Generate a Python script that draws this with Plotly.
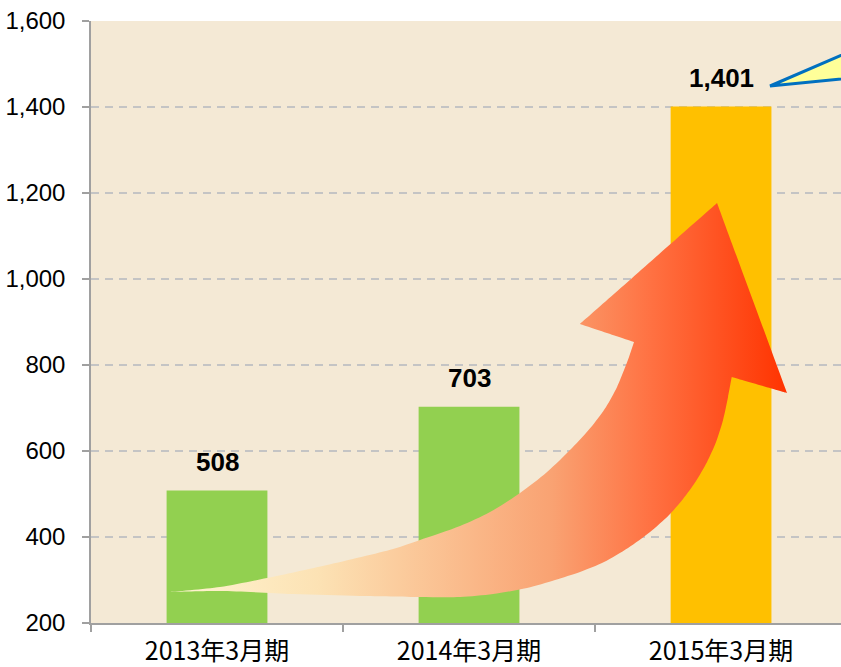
import plotly.graph_objects as go

# ---- data ----
categories = ["2013年3月期", "2014年3月期", "2015年3月期"]
values = [508, 703, 1401]
bar_colors = ["#92D050", "#92D050", "#FFC000"]
y_ticks = [200, 400, 600, 800, 1000, 1200, 1400, 1600]

# ---- decorative growth arrow outline (pixel frame) ----
# sharp corners are repeated so the smoothed outline keeps them pointed
arrow_px = [(170, 592), (170, 592), (220, 587), (267, 578), (327, 565), (393, 549), (420, 540),
            (460, 526), (490, 512), (520, 493), (547, 472), (572, 448), (592, 426), (606, 407),
            (617, 387), (624, 370), (629, 357), (634, 342), (634, 342), (580, 324), (580, 324),
            (580, 324), (717, 203), (717, 203), (717, 203), (787, 393), (787, 393), (787, 393),
            (731.7, 377), (731.7, 377), (728, 397), (723, 420), (716, 442), (707, 462), (696, 481),
            (683, 499), (669, 515), (650, 532), (628, 548), (604, 562), (580, 572), (555, 580),
            (527, 588), (493, 594), (460, 597), (420, 597), (360, 596), (293, 594), (220, 591),
            (170, 592), (170, 592)]
callout_px = [(770, 86), (870, 43), (870, 76)]

# reference frame: plot left 91px, category step 252px, y=200 at 623px, 200 units per 86px
def px_to_axis(p):
    return ((p[0] - 91) / 252 - 0.5, 200 + (623 - p[1]) * 200 / 86)

arrow_pts = [px_to_axis(p) for p in arrow_px]
callout_pts = [px_to_axis(p) for p in callout_px]

xs = list(range(len(categories)))

fig = go.Figure()
fig.add_trace(go.Bar(
    x=xs, y=values, width=0.4, marker=dict(color=bar_colors, line=dict(width=0)),
    hoverinfo="skip", showlegend=False,
))
fig.add_trace(go.Scatter(
    x=[p[0] for p in arrow_pts], y=[p[1] for p in arrow_pts],
    mode="lines", fill="toself", line=dict(width=0, shape="spline", smoothing=0.8),
    fillgradient=dict(type="horizontal",
                      colorscale=[[0, "#FFF5D2"], [0.24, "#FCE2B4"], [0.62, "#F9A272"],
                                  [0.78, "#FF7142"], [1, "#FF3300"]]),
    hoverinfo="skip", showlegend=False,
))

for x, v in zip(xs, values):
    fig.add_annotation(x=x, y=v, text=f"{v:,}", showarrow=False, yanchor="bottom",
                       yshift=12,
                       font=dict(family="Liberation Sans", size=26, color="#000000", weight="bold"),
                       xref="x", yref="y")

path = "M {} {} L {} {} L {} {} Z".format(*callout_pts[0], *callout_pts[1], *callout_pts[2])
fig.add_shape(type="path", path=path, xref="x", yref="y",
              fillcolor="#FFFF99", line=dict(color="#0070C0", width=3), layer="above")

fig.update_layout(
    width=841, height=667,
    margin=dict(l=91, r=0, t=21, b=44, autoexpand=False),
    paper_bgcolor="#FFFFFF", plot_bgcolor="#F4E9D5",
)
fig.update_xaxes(
    range=[-0.5, 2.476], tickmode="array", tickvals=xs, ticktext=categories,
    ticks="", showgrid=False, zeroline=False,
    showline=True, linecolor="#A0A0A0", linewidth=1.5,
    tickfont=dict(family="Noto Sans CJK JP", size=25, color="#000000"),
    ticklabelstandoff=5,
    minor=dict(tickmode="array", tickvals=[-0.5, 0.5, 1.5, 2.5], ticks="outside",
               ticklen=7, tickcolor="#A0A0A0", tickwidth=1.5, showgrid=False),
)
fig.update_yaxes(
    range=[200, 1600], tickmode="array", tickvals=y_ticks, tickformat=",",
    ticks="outside", ticklen=7, tickcolor="#A0A0A0", tickwidth=1.5,
    showline=True, linecolor="#A0A0A0", linewidth=1.5,
    showgrid=True, gridcolor="#C4C4C4", gridwidth=1.5, griddash="8px,6px",
    zeroline=False, ticklabelstandoff=12,
    tickfont=dict(family="Liberation Sans", size=24, color="#000000"),
)
fig.write_html("out.html", config={"displayModeBar": False},
               post_script="document.body.style.margin='0';document.body.style.overflow='hidden';")
